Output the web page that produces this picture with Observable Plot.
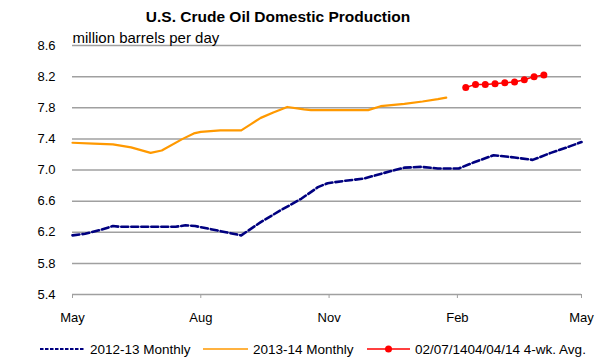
<!DOCTYPE html>
<html><head><meta charset="utf-8">
<script src="https://cdn.jsdelivr.net/npm/d3@7"></script>
<script src="https://cdn.jsdelivr.net/npm/@observablehq/plot@0.6"></script>
<style>
body{margin:0;width:600px;height:362px;overflow:hidden;background:#fff;font-family:"Liberation Sans",Arial,sans-serif;color:#000;position:relative;}
#title{position:absolute;top:0;left:0;width:556px;height:30px;line-height:34px;text-align:center;font-weight:bold;font-size:15.5px;}
#chart{position:absolute;top:30px;left:0;}
#legend{position:absolute;top:338px;left:0;}
</style></head><body>
<div id="title">U.S. Crude Oil Domestic Production</div>
<div id="chart"></div>
<div id="legend"></div>
<script>
const yTicks = [5.4, 5.8, 6.2, 6.6, 7.0, 7.4, 7.8, 8.2, 8.6];
const xTickDates = ["2013-05-01", "2013-08-01", "2013-11-01", "2014-02-01", "2014-05-01"];
const xTickLabels = ["May", "Aug", "Nov", "Feb", "May"];
const unitLabel = "million barrels per day";

const seriesNames = ["2012-13 Monthly", "2013-14 Monthly", "02/07/1404/04/14 4-wk. Avg."];

// 2012-13 series, placed on the shared May–May axis
const dates1213 = ["2013-05-01","2013-05-10","2013-05-21","2013-05-30","2013-06-04","2013-07-14","2013-07-21","2013-07-28","2013-08-08","2013-08-19","2013-08-30","2013-09-13","2013-09-27","2013-10-12","2013-10-24","2013-10-31","2013-11-12","2013-11-26","2013-12-10","2013-12-25","2014-01-06","2014-01-18","2014-02-02","2014-02-13","2014-02-27","2014-03-14","2014-03-27","2014-04-09","2014-04-22","2014-05-01"];
const values1213 = [6.16,6.18,6.23,6.28,6.27,6.27,6.29,6.28,6.24,6.20,6.16,6.33,6.48,6.63,6.78,6.83,6.86,6.89,6.96,7.03,7.04,7.02,7.02,7.10,7.19,7.16,7.13,7.22,7.30,7.36];

const dates1314 = ["2013-05-01","2013-05-16","2013-05-30","2013-06-12","2013-06-26","2013-07-04","2013-07-19","2013-07-27","2013-08-01","2013-08-15","2013-08-30","2013-09-06","2013-09-13","2013-09-22","2013-10-02","2013-10-14","2013-10-19","2013-11-29","2013-12-08","2013-12-25","2014-01-07","2014-01-18","2014-01-24"];
const values1314 = [7.35,7.34,7.33,7.29,7.22,7.25,7.40,7.47,7.49,7.51,7.51,7.59,7.67,7.74,7.81,7.78,7.77,7.77,7.82,7.85,7.88,7.91,7.93];

const datesWeekly = ["2014-02-07","2014-02-14","2014-02-21","2014-02-28","2014-03-07","2014-03-14","2014-03-21","2014-03-28","2014-04-04"];
const valuesWeekly = [8.06,8.10,8.10,8.11,8.12,8.13,8.16,8.20,8.22];

const colors = ["#000080", "#ff9900", "#ff0000"];

const parse = d3.utcParse("%Y-%m-%d");
const s1 = dates1213.map((d, i) => ({date: parse(d), value: values1213[i]}));
const s2 = dates1314.map((d, i) => ({date: parse(d), value: values1314[i]}));
const s3 = datesWeekly.map((d, i) => ({date: parse(d), value: valuesWeekly[i]}));
const tickDates = xTickDates.map(parse);
const labelMap = new Map(tickDates.map((d, i) => [+d, xTickLabels[i]]));

const font = '"Liberation Sans", Arial, sans-serif';
const chart = Plot.plot({
  width: 600, height: 305,
  marginTop: 15, marginBottom: 41, marginLeft: 72, marginRight: 19,
  style: {fontFamily: font, fontSize: "13px", color: "#000", background: "#fff", overflow: "visible"},
  x: {type: "utc", domain: [tickDates[0], tickDates[tickDates.length - 1]]},
  y: {domain: [5.4, 8.6]},
  marks: [
    Plot.ruleY(yTicks, {stroke: "#a0a0a0", strokeWidth: 1.5}),
    Plot.axisY({ticks: yTicks, tickSize: 0, tickPadding: 17, tickFormat: d3.format(".1f"), label: null, fontSize: 13}),
    Plot.axisX({ticks: tickDates, tickSize: 4, tickPadding: 14, tickFormat: d => labelMap.get(+d), label: null, stroke: "#a0a0a0", fill: "#000", fontSize: 13}),
    Plot.text([unitLabel], {text: d => d, frameAnchor: "top-left", textAnchor: "start", lineAnchor: "bottom", dy: -3, fontSize: 15}),
    Plot.line(s2, {x: "date", y: "value", stroke: colors[1], strokeWidth: 2.2}),
    Plot.line(s1, {x: "date", y: "value", stroke: colors[0], strokeWidth: 2.6, strokeDasharray: "7,3"}),
    Plot.line(s3, {x: "date", y: "value", stroke: colors[2], strokeWidth: 1.5}),
    Plot.dot(s3, {x: "date", y: "value", r: 3.5, fill: colors[2], stroke: "none"})
  ]
});
document.getElementById("chart").append(chart);

// Legend
const lg = d3.select("#legend").append("svg").attr("width", 600).attr("height", 24)
  .style("font-family", font).style("font-size", "13.5px");
const items = [
  {x1: 40, x2: 85, tx: 90, dash: "3.5,1.5", w: 2, dot: false},
  {x1: 203, x2: 248, tx: 253, dash: null, w: 1.5, dot: false},
  {x1: 367, x2: 410, tx: 415, dash: null, w: 1.5, dot: true}
];
items.forEach((it, i) => {
  const l = lg.append("line").attr("x1", it.x1).attr("x2", it.x2).attr("y1", 11).attr("y2", 11)
    .attr("stroke", colors[i]).attr("stroke-width", it.w);
  if (it.dash) l.attr("stroke-dasharray", it.dash);
  if (it.dot) lg.append("circle").attr("cx", (it.x1 + it.x2) / 2).attr("cy", 11).attr("r", 3.5).attr("fill", colors[i]);
  lg.append("text").attr("x", it.tx).attr("y", 11).attr("dy", "0.35em").text(seriesNames[i]);
});
</script>
</body></html>
